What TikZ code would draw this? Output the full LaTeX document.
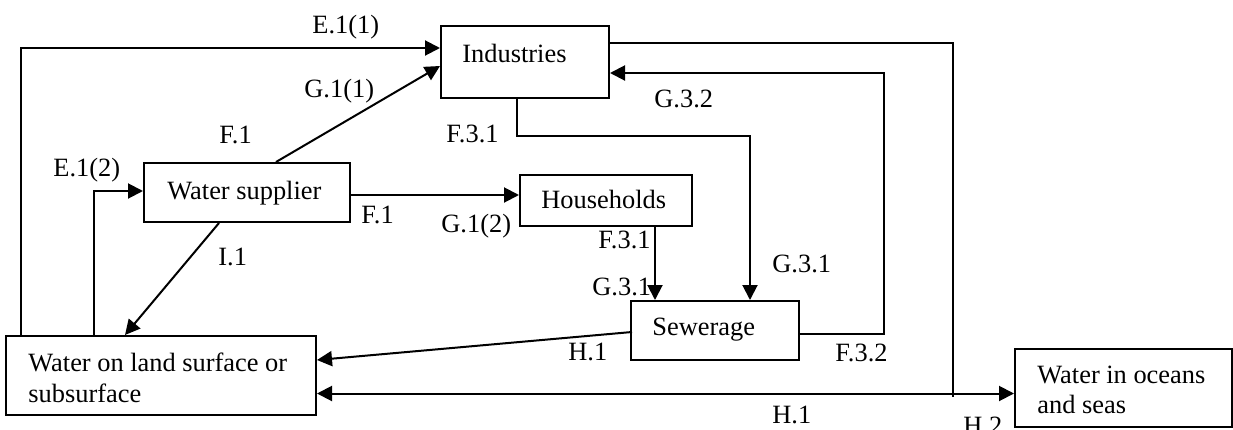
\documentclass[tikz,border=0pt]{standalone}
\usepackage{fontspec}
\setmainfont{Liberation Serif}
\usetikzlibrary{arrows.meta,calc}

\begin{document}
\begin{tikzpicture}[x=0.5pt,y=-0.5pt,
  box/.style={draw, line width=1pt, inner sep=0pt},
  flow/.style={line width=1pt},
  tip/.style={Triangle[length=7.5pt,width=7.5pt]},
  arr/.style={flow, -{Triangle[length=7.5pt,width=7.5pt]}},
  txt/.style={inner sep=0pt, anchor=base west},
  font=\fontsize{13.2}{15.8}\selectfont]
\useasboundingbox (0,0) rectangle (1233,429);

% boxes
\node[box, minimum width=84pt,  minimum height=36pt]   (ind) at (525,62) {};
\node[box, minimum width=103pt, minimum height=29.5pt] (ws)  at (247,192.5) {};
\node[box, minimum width=86pt,  minimum height=25.5pt] (hh)  at (606,200.5) {};
\node[box, minimum width=84pt,  minimum height=29.5pt] (sw)  at (715,330.5) {};
\node[box, minimum width=155pt, minimum height=39.5pt] (wl)  at (161,375.5) {};
\node[box, minimum width=108.5pt, minimum height=39pt] (oc)  at (1123.5,388) {};

% box texts
\node[txt] (indT) at (462,62)  {Industries};
\node[txt] (wsT)  at (167,199) {Water supplier};
\node[txt] (hhT)  at (541,208) {Households};
\node[txt] (swT)  at (652,335) {Sewerage};
\node[txt] (wlT1) at (28,371)  {Water on land surface or};
\node[txt] (wlT2) at (28,402)  {subsurface};
\node[txt] (ocT1) at (1037,383) {Water in oceans};
\node[txt] (ocT2) at (1037,413) {and seas};

% flow labels
\node[txt] (lE11)  at (312,33)  {E.1(1)};
\node[txt] (lG11)  at (304,97)  {G.1(1)};
\node[txt] (lF1a)  at (219,143) {F.1};
\node[txt] (lE12)  at (53,176)  {E.1(2)};
\node[txt] (lF31a) at (446,142) {F.3.1};
\node[txt] (lG32)  at (654,107) {G.3.2};
\node[txt] (lF1b)  at (361,223) {F.1};
\node[txt] (lG12)  at (441,232) {G.1(2)};
\node[txt] (lI1)   at (218,265) {I.1};
\node[txt] (lH1a)  at (568,360) {H.1};
\node[txt] (lF31b) at (598,248) {F.3.1};
\node[txt] (lG31a) at (592,295) {G.3.1};
\node[txt] (lG31b) at (772,272) {G.3.1};
\node[txt] (lF32)  at (835,361) {F.3.2};
\node[txt] (lH1b)  at (772,423) {H.1};
\node[txt] (lH2)   at (963,434) {H.2};

% connectors
\draw[arr] ($(wl.north west)+(16,0)$) |- ($(ind.west)+(0,-14)$);
\draw[arr] ($(wl.north west)+(89,0)$) |- ($(ws.west)+(0,-1.5)$);
\draw[arr] ($(ws.north west)+(133,0)$) -- ($(ind.west)+(0,4)$);
\draw[arr] ($(ws.east)+(0,2.5)$) coordinate (f1) -- (f1 -| hh.west);
\draw[arr] ($(ws.south west)+(76,0)$) -- ($(wl.north west)+(120,0)$);
\draw[arr] ($(ind.south west)+(77,0)$) -- ($(ind.south west)+(77,37)$) -| ($(sw.north west)+(120,0)$);
\draw[arr] ($(hh.south west)+(136,0)$) coordinate (hf) -- (hf |- sw.north);

\coordinate (h2end) at (953,397);
\draw[flow] ($(ind.north east)+(0,18)$) -| (h2end);

\coordinate (g32) at (884,73);
\draw[arr] ($(sw.east)+(0,3.5)$) -| (g32) -- (g32 -| ind.east);

\draw[arr] ($(sw.west)+(2,1.5)$) -- ($(wl.east)+(0,-15.5)$);
\draw[flow, {Triangle[length=7.5pt,width=7.5pt]}-{Triangle[length=7.5pt,width=7.5pt]}]
  ($(wl.east)+(0,18)$) coordinate (hb) -- (hb -| oc.west);
\end{tikzpicture}
\end{document}
